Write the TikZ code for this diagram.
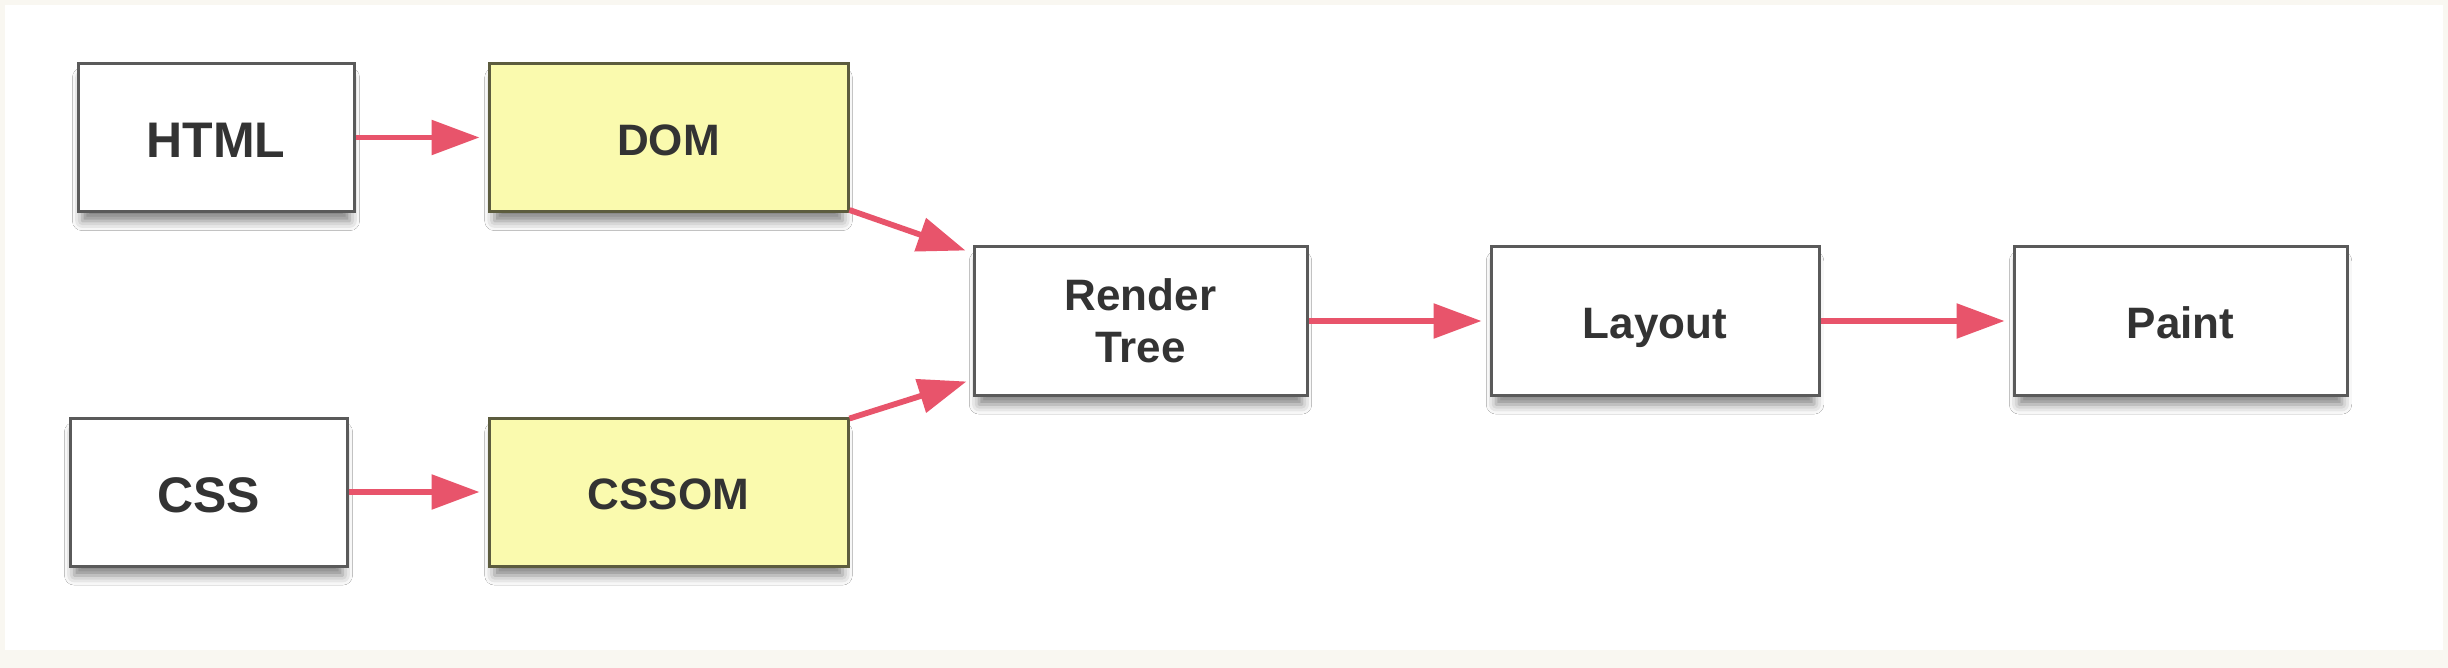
\documentclass[tikz,border=0pt]{standalone}
\usepackage{fontspec}
\setmainfont{Liberation Sans}
\usetikzlibrary{arrows.meta,shadows.blur}
\definecolor{arrowred}{HTML}{E8546B}
\definecolor{boxline}{HTML}{5A5A5A}
\definecolor{yboxline}{HTML}{5C5C3E}
\definecolor{yfill}{HTML}{FAFAAE}
\definecolor{txt}{HTML}{333333}
\definecolor{cream}{HTML}{F9F7F1}
\tikzset{
  box/.style={draw=boxline, line width=1.5pt, fill=white, inner sep=0pt,
    minimum height=74pt, text=txt, align=center,
    font=\fontsize{22}{26}\selectfont\bfseries,
    blur shadow={shadow xshift=0pt, shadow yshift=-6pt, shadow scale=0.97, shadow blur radius=5pt, shadow opacity=50}},
  one/.style={text height=20pt, text depth=2.2pt},
  ybox/.style={box, draw=yboxline, fill=yfill},
  bigtxt/.style={font=\fontsize{25}{29}\selectfont\bfseries, text height=22pt, text depth=2pt},
  conn/.style={draw=arrowred, line width=2.9pt, -{Triangle[length=24pt,width=17pt]}, shorten >=4pt}
}
\begin{document}
\begin{tikzpicture}[x=0.5pt,y=-0.5pt]
\fill[cream] (0,0) rectangle (2448,668);
\fill[white] (5,5) rectangle (2443,650);
\useasboundingbox (0,0) rectangle (2448,668);
\node[box, bigtxt, minimum width=138pt] (html) at (216,137.5) {HTML};
\node[ybox, one, minimum width=179.5pt] (dom) at (668.5,137.5) {DOM};
\node[box, bigtxt, minimum width=138.5pt] (css) at (208.5,492) {CSS};
\node[ybox, one, minimum width=179.5pt] (cssom) at (668.5,492) {CSSOM};
\node[box, minimum width=166.5pt] (render) at (1140.5,321) {Render\\Tree};
\node[box, one, minimum width=164pt] (layout) at (1655,321) {Layout};
\node[box, one, minimum width=166.5pt] (paint) at (2180.5,321) {Paint};
\draw[conn] (html.east) -- (dom.west);
\draw[conn] (css.east) -- (cssom.west);
\draw[conn, shorten >=0pt] ([yshift=1.5pt]dom.south east) -- ([xshift=-3.5pt,yshift=-2.5pt]render.north west);
\draw[conn, shorten >=0pt] ([yshift=-1pt]cssom.north east) -- ([xshift=-3pt,yshift=7.5pt]render.south west);
\draw[conn] (render.east) -- (layout.west);
\draw[conn] (layout.east) -- (paint.west);
\end{tikzpicture}
\end{document}
